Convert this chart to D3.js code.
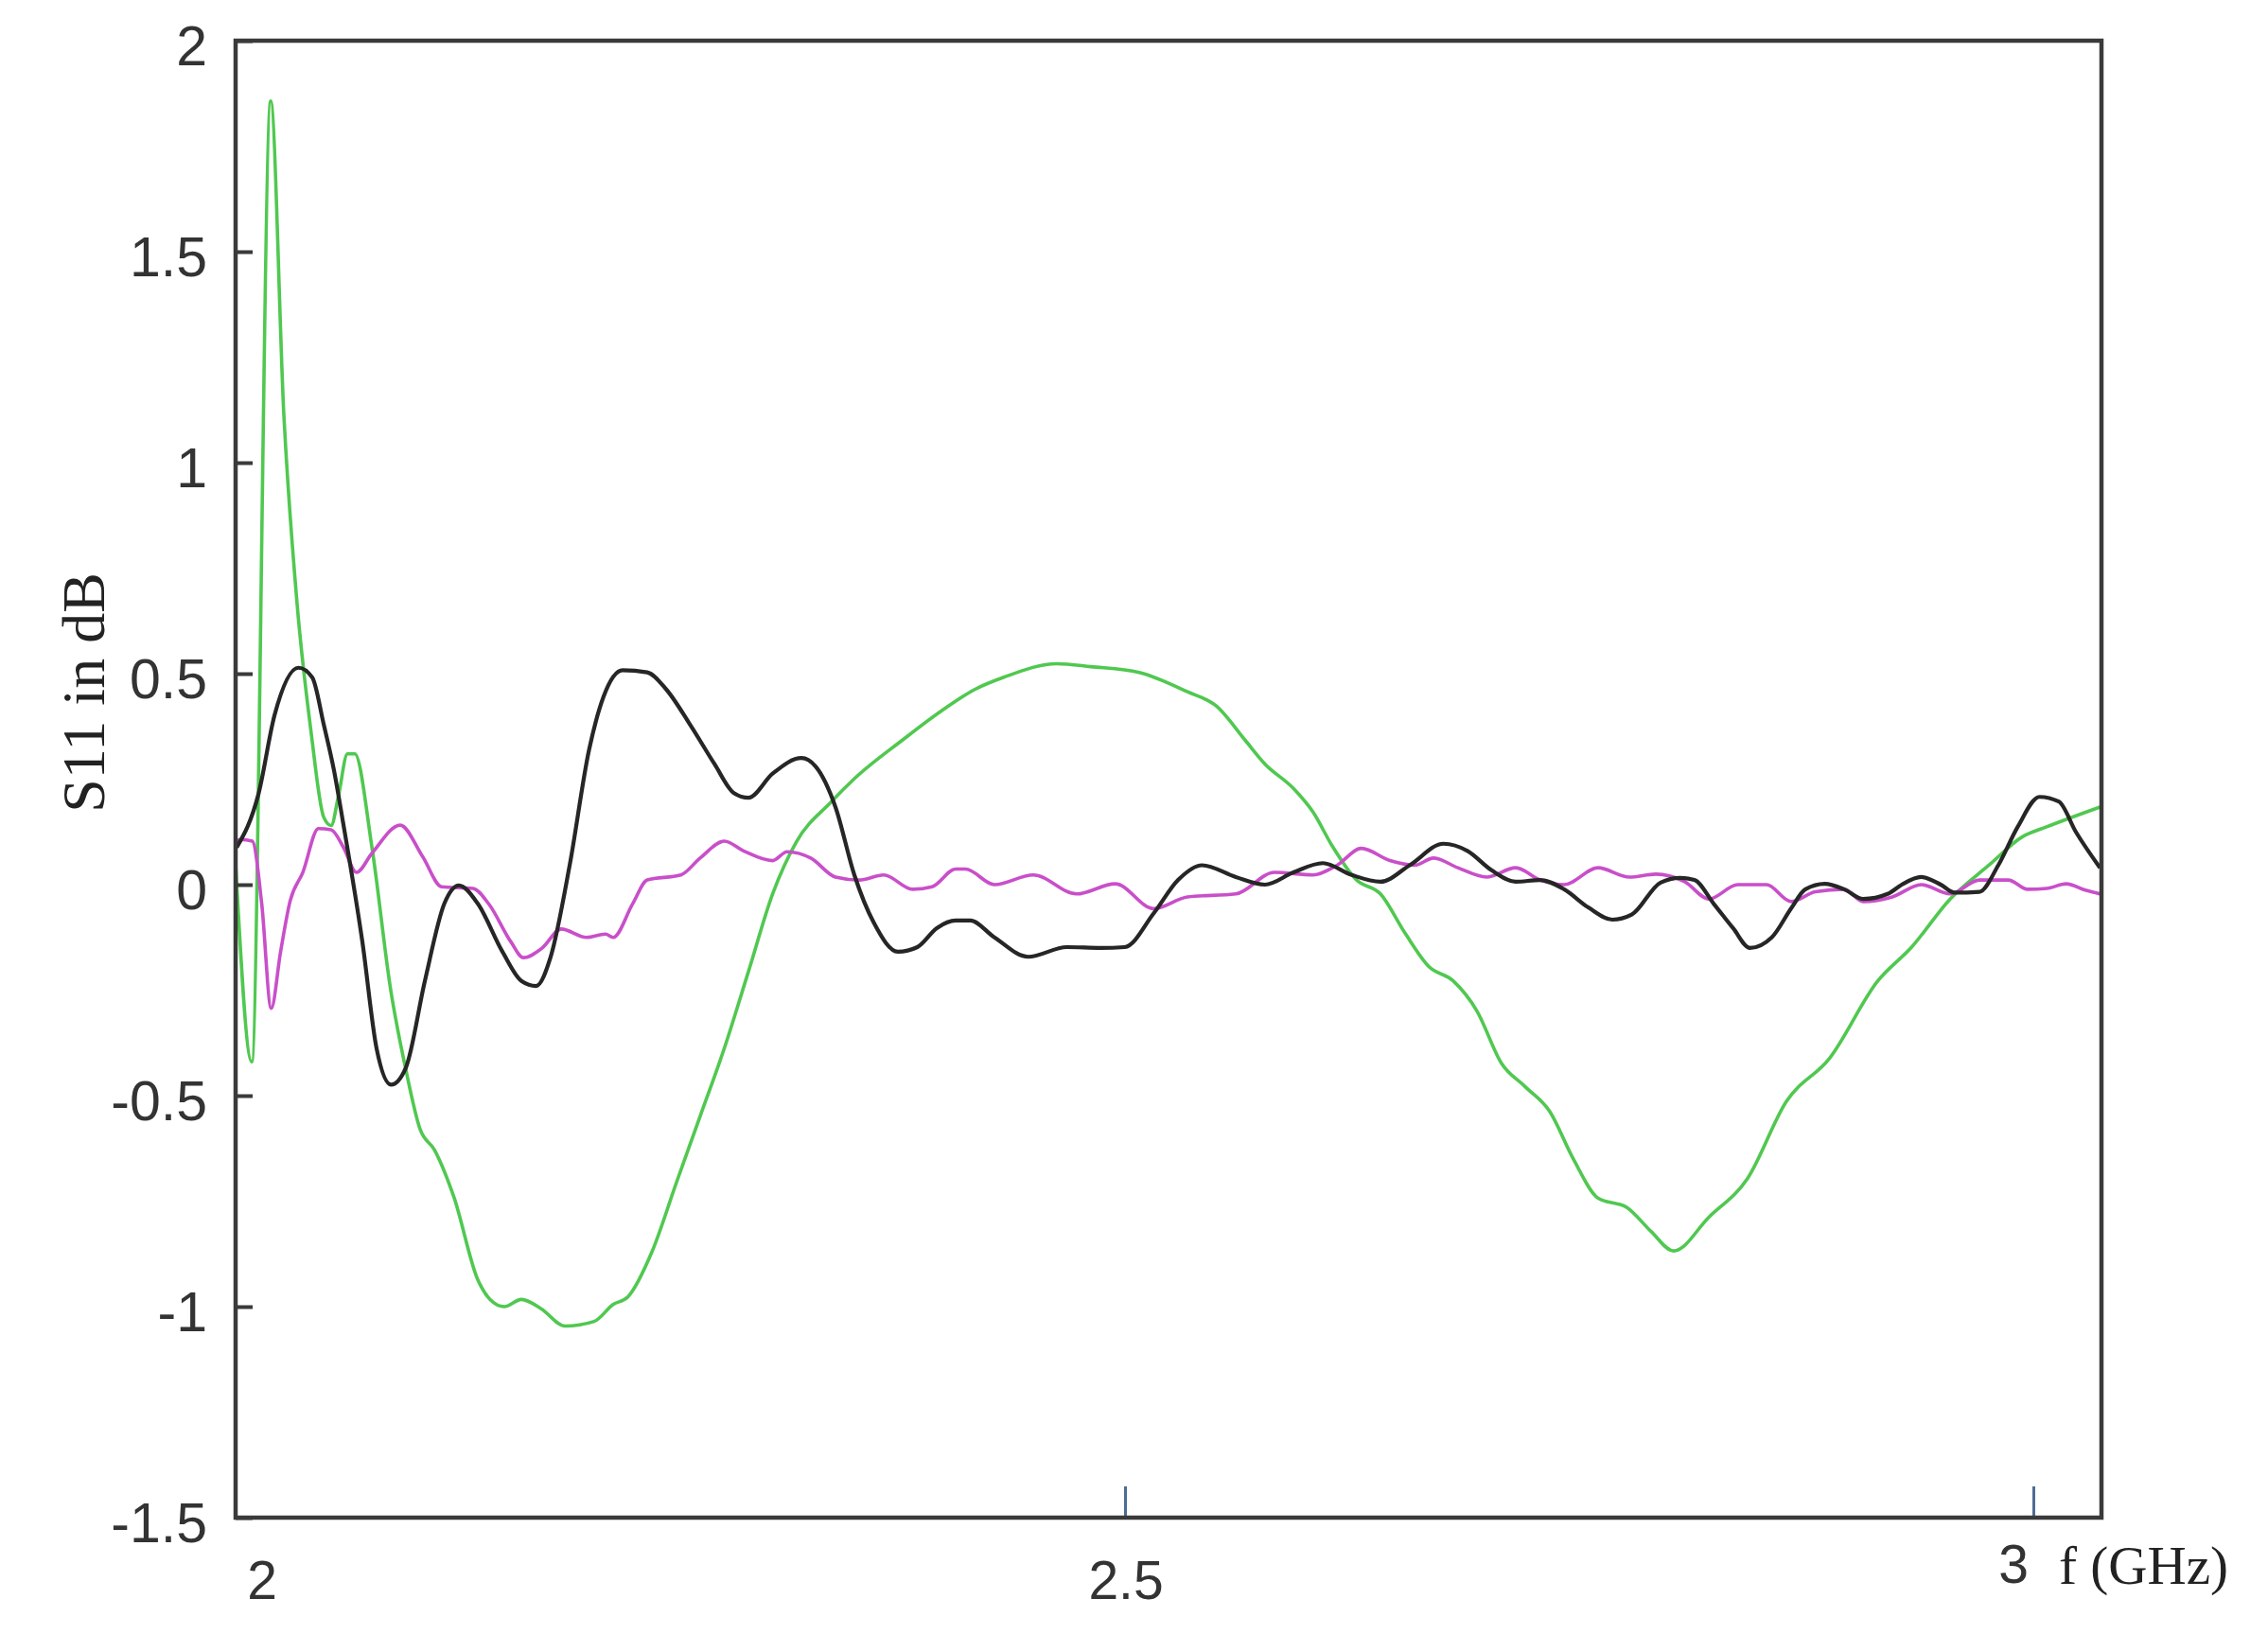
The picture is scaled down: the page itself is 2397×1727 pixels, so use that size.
<!DOCTYPE html>
<html>
<head>
<meta charset="utf-8">
<script src="https://cdn.jsdelivr.net/npm/d3@7"></script>
<style>
  body { margin: 0; background: #fff; }
  .tick-label { font-family: 'Liberation Sans', Arial, sans-serif; fill: #333; }
  .axis-title { font-family: 'Liberation Serif', 'Times New Roman', serif; fill: #222; }
</style>
</head>
<body>
<div id="chart"></div>
<script>
// Traced S11 curves, [frequency in GHz, S11 in dB].
const greenTrace = [
  [2.0104, 0.05], [2.0193, -0.42], [2.0297, 1.857], [2.037, 1.11], [2.0443, 0.663],
  [2.052, 0.36], [2.0589, 0.16], [2.063, 0.14], [2.067, 0.21], [2.072, 0.31],
  [2.076, 0.31], [2.0854, 0.09], [2.0958, -0.25], [2.1042, -0.44], [2.112, -0.58],
  [2.1198, -0.628], [2.1307, -0.742], [2.1437, -0.936], [2.1505, -0.983], [2.1583, -1.0],
  [2.1677, -0.983], [2.1786, -1.005], [2.1917, -1.046], [2.2078, -1.035], [2.2182, -0.995],
  [2.2263, -0.977], [2.2396, -0.87], [2.2529, -0.708], [2.2661, -0.549], [2.2794, -0.388],
  [2.2927, -0.206], [2.306, -0.022], [2.3193, 0.103], [2.338, 0.195], [2.351, 0.251],
  [2.3776, 0.343], [2.399, 0.412], [2.4175, 0.463], [2.4333, 0.4915], [2.4625, 0.5235],
  [2.4812, 0.5166], [2.5078, 0.503], [2.5344, 0.457], [2.5504, 0.423], [2.566, 0.343],
  [2.577, 0.286], [2.5927, 0.228], [2.6035, 0.172], [2.614, 0.092], [2.6274, 0.011],
  [2.6406, -0.022], [2.654, -0.114], [2.6672, -0.194], [2.6806, -0.228], [2.6938, -0.3],
  [2.7071, -0.4225], [2.7203, -0.479], [2.7337, -0.537], [2.7469, -0.651], [2.7603, -0.7425],
  [2.7763, -0.765], [2.7896, -0.822], [2.802, -0.868], [2.8214, -0.788], [2.8427, -0.696],
  [2.864, -0.514], [2.8879, -0.411], [2.9144, -0.228], [2.933, -0.148], [2.9542, -0.034],
  [2.9755, 0.046], [2.9942, 0.114], [3.0073, 0.137], [3.0367, 0.184]
];

const blackTrace = [
  [2.011, 0.088], [2.023, 0.215], [2.0318, 0.401], [2.045, 0.514], [2.0526, 0.491],
  [2.0589, 0.38], [2.0646, 0.27], [2.0695, 0.149], [2.0802, -0.136], [2.088, -0.388],
  [2.096, -0.474], [2.1041, -0.434], [2.1146, -0.228], [2.1253, -0.045], [2.1333, -0.002],
  [2.1437, -0.045], [2.1573, -0.159], [2.1677, -0.228], [2.1758, -0.24], [2.1839, -0.17],
  [2.1943, 0.046], [2.205, 0.32], [2.213, 0.446], [2.2234, 0.508], [2.237, 0.503],
  [2.2474, 0.463], [2.2609, 0.377], [2.274, 0.286], [2.2847, 0.217], [2.2927, 0.206],
  [2.306, 0.263], [2.3219, 0.3], [2.3297, 0.28], [2.3406, 0.184], [2.351, 0.023],
  [2.3618, -0.091], [2.375, -0.159], [2.3857, -0.148], [2.3964, -0.103], [2.4068, -0.085],
  [2.4148, -0.085], [2.4281, -0.125], [2.4467, -0.171], [2.468, -0.148], [2.4865, -0.15],
  [2.4999, -0.148], [2.5158, -0.068], [2.5292, 0.011], [2.5424, 0.046], [2.561, 0.018],
  [2.577, 0.0], [2.5927, 0.029], [2.6089, 0.051], [2.6248, 0.023], [2.6406, 0.007],
  [2.6567, 0.046], [2.6753, 0.097], [2.6885, 0.08], [2.7018, 0.034], [2.715, 0.007],
  [2.7284, 0.011], [2.7417, -0.011], [2.755, -0.054], [2.7682, -0.083], [2.7789, -0.071],
  [2.7948, 0.005], [2.8055, 0.016], [2.8134, 0.011], [2.824, -0.045], [2.8347, -0.103],
  [2.844, -0.15], [2.856, -0.125], [2.8667, -0.056], [2.8745, -0.011], [2.8852, 0.002],
  [2.8958, -0.011], [2.9063, -0.034], [2.9198, -0.022], [2.9276, 0.0], [2.9383, 0.018],
  [2.949, 0.0], [2.9568, -0.019], [2.9703, -0.017], [2.9807, 0.046], [2.9914, 0.137],
  [3.0034, 0.208], [3.014, 0.197], [3.0234, 0.125], [3.0367, 0.04]
];

const magentaTrace = [
  [2.011, 0.1], [2.0126, 0.107], [2.0196, 0.103], [2.0248, -0.046], [2.03, -0.293],
  [2.0352, -0.158], [2.0404, -0.039], [2.0474, 0.029], [2.056, 0.133], [2.063, 0.13],
  [2.0698, 0.088], [2.077, 0.029], [2.0854, 0.074], [2.101, 0.141], [2.1134, 0.066],
  [2.1238, -0.005], [2.1411, -0.009], [2.1498, -0.046], [2.162, -0.136], [2.1688, -0.173],
  [2.1792, -0.15], [2.1896, -0.105], [2.2036, -0.125], [2.214, -0.117], [2.2182, -0.125],
  [2.229, -0.045], [2.237, 0.011], [2.2555, 0.023], [2.2661, 0.063], [2.2794, 0.103],
  [2.29, 0.08], [2.306, 0.057], [2.314, 0.078], [2.327, 0.063], [2.3406, 0.018],
  [2.3536, 0.011], [2.3672, 0.023], [2.3831, -0.011], [2.3938, -0.005], [2.4068, 0.037],
  [2.4122, 0.037], [2.4281, 0.0], [2.4495, 0.023], [2.4733, -0.022], [2.4946, 0.002],
  [2.5158, -0.057], [2.5344, -0.029], [2.561, -0.022], [2.5823, 0.029], [2.6035, 0.023],
  [2.6167, 0.046], [2.6301, 0.086], [2.6458, 0.057], [2.6594, 0.046], [2.6698, 0.063],
  [2.6832, 0.04], [2.699, 0.018], [2.7151, 0.04], [2.7284, 0.011], [2.7417, 0.0],
  [2.7603, 0.04], [2.7776, 0.018], [2.7922, 0.025], [2.8081, 0.007], [2.8214, -0.034],
  [2.8373, 0.0], [2.8531, 0.0], [2.8667, -0.04], [2.88, -0.017], [2.8958, -0.011],
  [2.9064, -0.04], [2.9224, -0.029], [2.9383, 0.0], [2.9542, -0.022], [2.9703, 0.011],
  [2.9862, 0.011], [2.9969, -0.011], [3.0073, -0.009], [3.0181, 0.002], [3.0286, -0.013],
  [3.0367, -0.022]
];

const yTicks = [-1.5, -1, -0.5, 0, 0.5, 1, 1.5, 2];
const xTickMarks = [2.5, 3];
const xTickLabels = ['2', '2.5', '3'];
const xTickLabelValues = [2, 2.5, 3];
const xDomain = [2.0104, 3.0375];
const yDomain = [-1.5, 2];

// Layout.
const width = 2397;
const height = 1727;
const plotLeft = 249;
const plotRight = 2221;
const plotTop = 43;
const plotBottom = 1604;
const frameColour = '#3a3a3a';
const tickFontSize = 59;

const svg = d3.select('#chart')
  .append('svg')
  .attr('width', width)
  .attr('height', height);

const x = d3.scaleLinear().domain(xDomain).range([plotLeft, plotRight]);
const y = d3.scaleLinear().domain(yDomain).range([plotBottom, plotTop]);

svg.append('clipPath')
  .attr('id', 'plot-clip')
  .append('rect')
  .attr('x', plotLeft)
  .attr('y', plotTop)
  .attr('width', plotRight - plotLeft)
  .attr('height', plotBottom - plotTop);

// Curves.
const line = d3.line()
  .x(d => x(d[0]))
  .y(d => y(d[1]))
  .curve(d3.curveMonotoneX);

const series = [
  { data: greenTrace, colour: '#50c850', width: 3.6 },
  { data: magentaTrace, colour: '#c94fc9', width: 3.6 },
  { data: blackTrace, colour: '#262626', width: 4.2 }
];

svg.append('g')
  .attr('clip-path', 'url(#plot-clip)')
  .selectAll('path')
  .data(series)
  .join('path')
  .attr('d', d => line(d.data))
  .attr('fill', 'none')
  .attr('stroke', d => d.colour)
  .attr('stroke-width', d => d.width)
  .attr('stroke-linejoin', 'round');

// Y axis: small inward ticks and labels (plain hyphen minus, as in the original).
const yAxis = svg.append('g')
  .attr('transform', `translate(${plotLeft},0)`)
  .call(d3.axisRight(y).tickValues(yTicks).tickSize(18).tickFormat(''));
yAxis.select('.domain').remove();
yAxis.selectAll('.tick line').attr('stroke', frameColour).attr('stroke-width', 4);

svg.append('g')
  .selectAll('text')
  .data(yTicks)
  .join('text')
  .attr('class', 'tick-label')
  .attr('x', plotLeft - 30)
  .attr('y', d => y(d) + 6)
  .attr('text-anchor', 'end')
  .attr('dominant-baseline', 'central')
  .style('font-size', tickFontSize + 'px')
  .text(d => String(d));

// X axis: two bluish ticks pointing up from the bottom edge.
const xAxis = svg.append('g')
  .attr('transform', `translate(0,${plotBottom})`)
  .call(d3.axisTop(x).tickValues(xTickMarks).tickSize(33).tickFormat(''));
xAxis.select('.domain').remove();
xAxis.selectAll('.tick line').attr('stroke', '#4d6d94').attr('stroke-width', 3);

// X labels sit a little off their values in the original.
const xLabelShift = [[48, 66], [1, 66], [-21, 49]];
svg.append('g')
  .selectAll('text')
  .data(xTickLabels)
  .join('text')
  .attr('class', 'tick-label')
  .attr('x', (d, i) => x(xTickLabelValues[i]) + xLabelShift[i][0])
  .attr('y', (d, i) => plotBottom + xLabelShift[i][1])
  .attr('text-anchor', 'middle')
  .attr('dominant-baseline', 'central')
  .style('font-size', '57px')
  .text(d => d);

svg.append('text')
  .attr('class', 'axis-title')
  .attr('x', 2176)
  .attr('y', plotBottom + 70)
  .attr('textLength', 179)
  .attr('lengthAdjust', 'spacingAndGlyphs')
  .style('font-size', '56px')
  .text('f (GHz)');

svg.append('text')
  .attr('class', 'axis-title')
  .attr('transform', 'translate(110,732) rotate(-90)')
  .attr('text-anchor', 'middle')
  .style('font-size', '64px')
  .text('S11 in dB');

// Frame drawn last so it sits over the curve ends.
svg.append('rect')
  .attr('x', plotLeft)
  .attr('y', plotTop)
  .attr('width', plotRight - plotLeft)
  .attr('height', plotBottom - plotTop)
  .attr('fill', 'none')
  .attr('stroke', frameColour)
  .attr('stroke-width', 4.5);
</script>
</body>
</html>
